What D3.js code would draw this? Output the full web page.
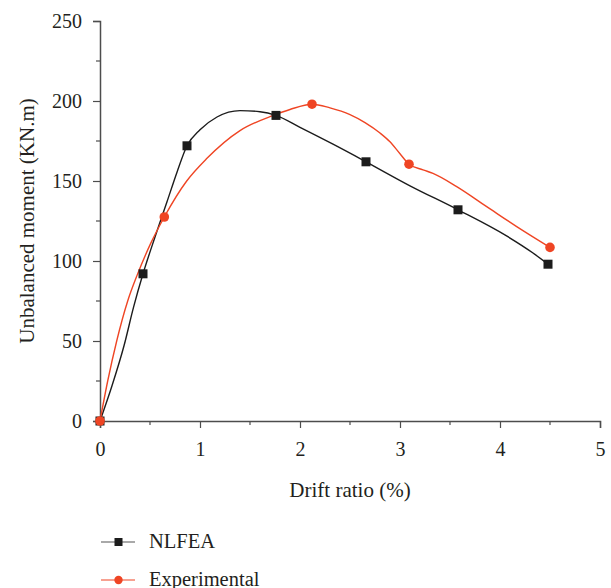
<!DOCTYPE html>
<html>
<head>
<meta charset="utf-8">
<script src="https://cdn.jsdelivr.net/npm/d3@7"></script>
<style>
  html, body { margin: 0; padding: 0; background: #fff; }
  svg { display: block; }
</style>
</head>
<body>
<svg id="chart" width="611" height="588"></svg>
<script>
// NLFEA response curve: drift ratio (%) and unbalanced moment (kN.m)
const nlfeaLineDrift  = [0, 0.12, 0.24, 0.335, 0.43, 0.55, 0.67, 0.77, 0.87, 1.0, 1.17, 1.4, 1.6, 1.76, 2.0, 2.33, 2.66, 3.1, 3.58, 4.07, 4.33, 4.48];
const nlfeaLineMoment = [0, 22, 47, 71, 92, 115, 137, 155.5, 172, 182, 190, 194, 193.3, 191, 183.5, 173, 162, 147, 132, 115.5, 105, 98];
// NLFEA marked points
const nlfeaDrift  = [0, 0.43, 0.87, 1.76, 2.66, 3.58, 4.48];
const nlfeaMoment = [0, 92, 172, 191, 162, 132, 98];

// Experimental response curve
const expLineDrift  = [0, 0.077, 0.167, 0.277, 0.377, 0.507, 0.643, 0.867, 1.067, 1.4, 1.733, 1.9, 2.12, 2.3, 2.5, 2.65, 2.8, 2.9, 3.0, 3.09, 3.23, 3.33, 3.567, 3.867, 4.167, 4.5];
const expLineMoment = [0, 25, 50, 75, 92, 111, 127.5, 150, 164, 181.5, 191, 194.7, 198, 195.7, 191.5, 186.5, 180, 174.5, 167, 160.5, 157, 154.8, 146.5, 134, 121.5, 108.5];
// Experimental marked points
const expDrift  = [0, 0.643, 2.12, 3.09, 4.5];
const expMoment = [0, 127.5, 198, 160.5, 108.5];

const xTicks = [0, 1, 2, 3, 4, 5];
const yTicks = [0, 50, 100, 150, 200, 250];
const xMinor = [0.5, 1.5, 2.5, 3.5, 4.5];
const yMinor = [25, 75, 125, 175, 225];

const seriesNames = ["NLFEA", "Experimental"];
const black = "#1c1c1c";
const red = "#ef4524";
const serif = "'Liberation Serif', 'DejaVu Serif', serif";
const textColor = "#231f20";
const axisColor = "#4d4d4d";

const svg = d3.select("#chart");
const x = d3.scaleLinear().domain([0, 5]).range([100, 600]);
const y = d3.scaleLinear().domain([0, 250]).range([421, 21]);

// x axis with minor ticks
const gx = svg.append("g").attr("transform", `translate(0,${y(0)})`);
gx.call(d3.axisBottom(x).tickValues(xTicks).tickSize(7).tickPadding(14).tickFormat(d3.format("d")));
gx.append("g").selectAll("line").data(xMinor).join("line")
  .attr("x1", d => x(d)).attr("x2", d => x(d)).attr("y1", 0).attr("y2", 4)
  .attr("stroke", axisColor).attr("stroke-width", 1.2);

// y axis with minor ticks
const gy = svg.append("g").attr("transform", `translate(${x(0)},0)`);
gy.call(d3.axisLeft(y).tickValues(yTicks).tickSize(7).tickPadding(11).tickFormat(d3.format("d")));
gy.append("g").selectAll("line").data(yMinor).join("line")
  .attr("x1", 0).attr("x2", -4).attr("y1", d => y(d)).attr("y2", d => y(d))
  .attr("stroke", axisColor).attr("stroke-width", 1.2);

[gx, gy].forEach(g => {
  g.attr("font-family", serif).attr("font-size", 20);
  g.select(".domain").attr("stroke", axisColor).attr("stroke-width", 1.5);
  g.selectAll(".tick line").attr("stroke", axisColor).attr("stroke-width", 1.2);
  g.selectAll(".tick text").attr("fill", textColor);
});

// axis titles
svg.append("text")
  .attr("x", 350).attr("y", 497)
  .attr("text-anchor", "middle")
  .attr("font-family", serif).attr("font-size", 21).attr("fill", textColor)
  .text("Drift ratio (%)");

svg.append("text")
  .attr("transform", `translate(34,${221}) rotate(-90)`)
  .attr("text-anchor", "middle")
  .attr("font-family", serif).attr("font-size", 21).attr("fill", textColor)
  .text("Unbalanced moment (KN.m)");

// curves
const line = d3.line().x(d => x(d[0])).y(d => y(d[1])).curve(d3.curveMonotoneX);
const nlfeaLine = nlfeaLineDrift.map((d, i) => [d, nlfeaLineMoment[i]]);
const expLine = expLineDrift.map((d, i) => [d, expLineMoment[i]]);

svg.append("path").datum(nlfeaLine).attr("d", line)
  .attr("fill", "none").attr("stroke", black).attr("stroke-width", 1.4);
svg.append("path").datum(expLine).attr("d", line)
  .attr("fill", "none").attr("stroke", red).attr("stroke-width", 1.4);

// markers
const nlfea = nlfeaDrift.map((d, i) => [d, nlfeaMoment[i]]);
const exper = expDrift.map((d, i) => [d, expMoment[i]]);
svg.append("g").selectAll("rect").data(nlfea).join("rect")
  .attr("x", d => x(d[0]) - 4.5).attr("y", d => y(d[1]) - 4.5)
  .attr("width", 9).attr("height", 9).attr("fill", black);
svg.append("g").selectAll("circle").data(exper).join("circle")
  .attr("cx", d => x(d[0])).attr("cy", d => y(d[1])).attr("r", 4.8)
  .attr("fill", red);

// legend
const legend = svg.append("g");
seriesNames.forEach((name, i) => {
  const ly = 542 + i * 38;
  const col = i === 0 ? black : red;
  legend.append("line").attr("x1", 101).attr("x2", 135).attr("y1", ly).attr("y2", ly)
    .attr("stroke", i === 0 ? "#555" : red).attr("stroke-width", 1.2);
  if (i === 0) {
    legend.append("rect").attr("x", 114.5).attr("y", ly - 4).attr("width", 8).attr("height", 8).attr("fill", col);
  } else {
    legend.append("circle").attr("cx", 118.5).attr("cy", ly).attr("r", 4.2).attr("fill", col);
  }
  legend.append("text").attr("x", 149).attr("y", ly + 6)
    .attr("font-family", serif).attr("font-size", 20.5).attr("fill", textColor)
    .text(name);
});
</script>
</body>
</html>
